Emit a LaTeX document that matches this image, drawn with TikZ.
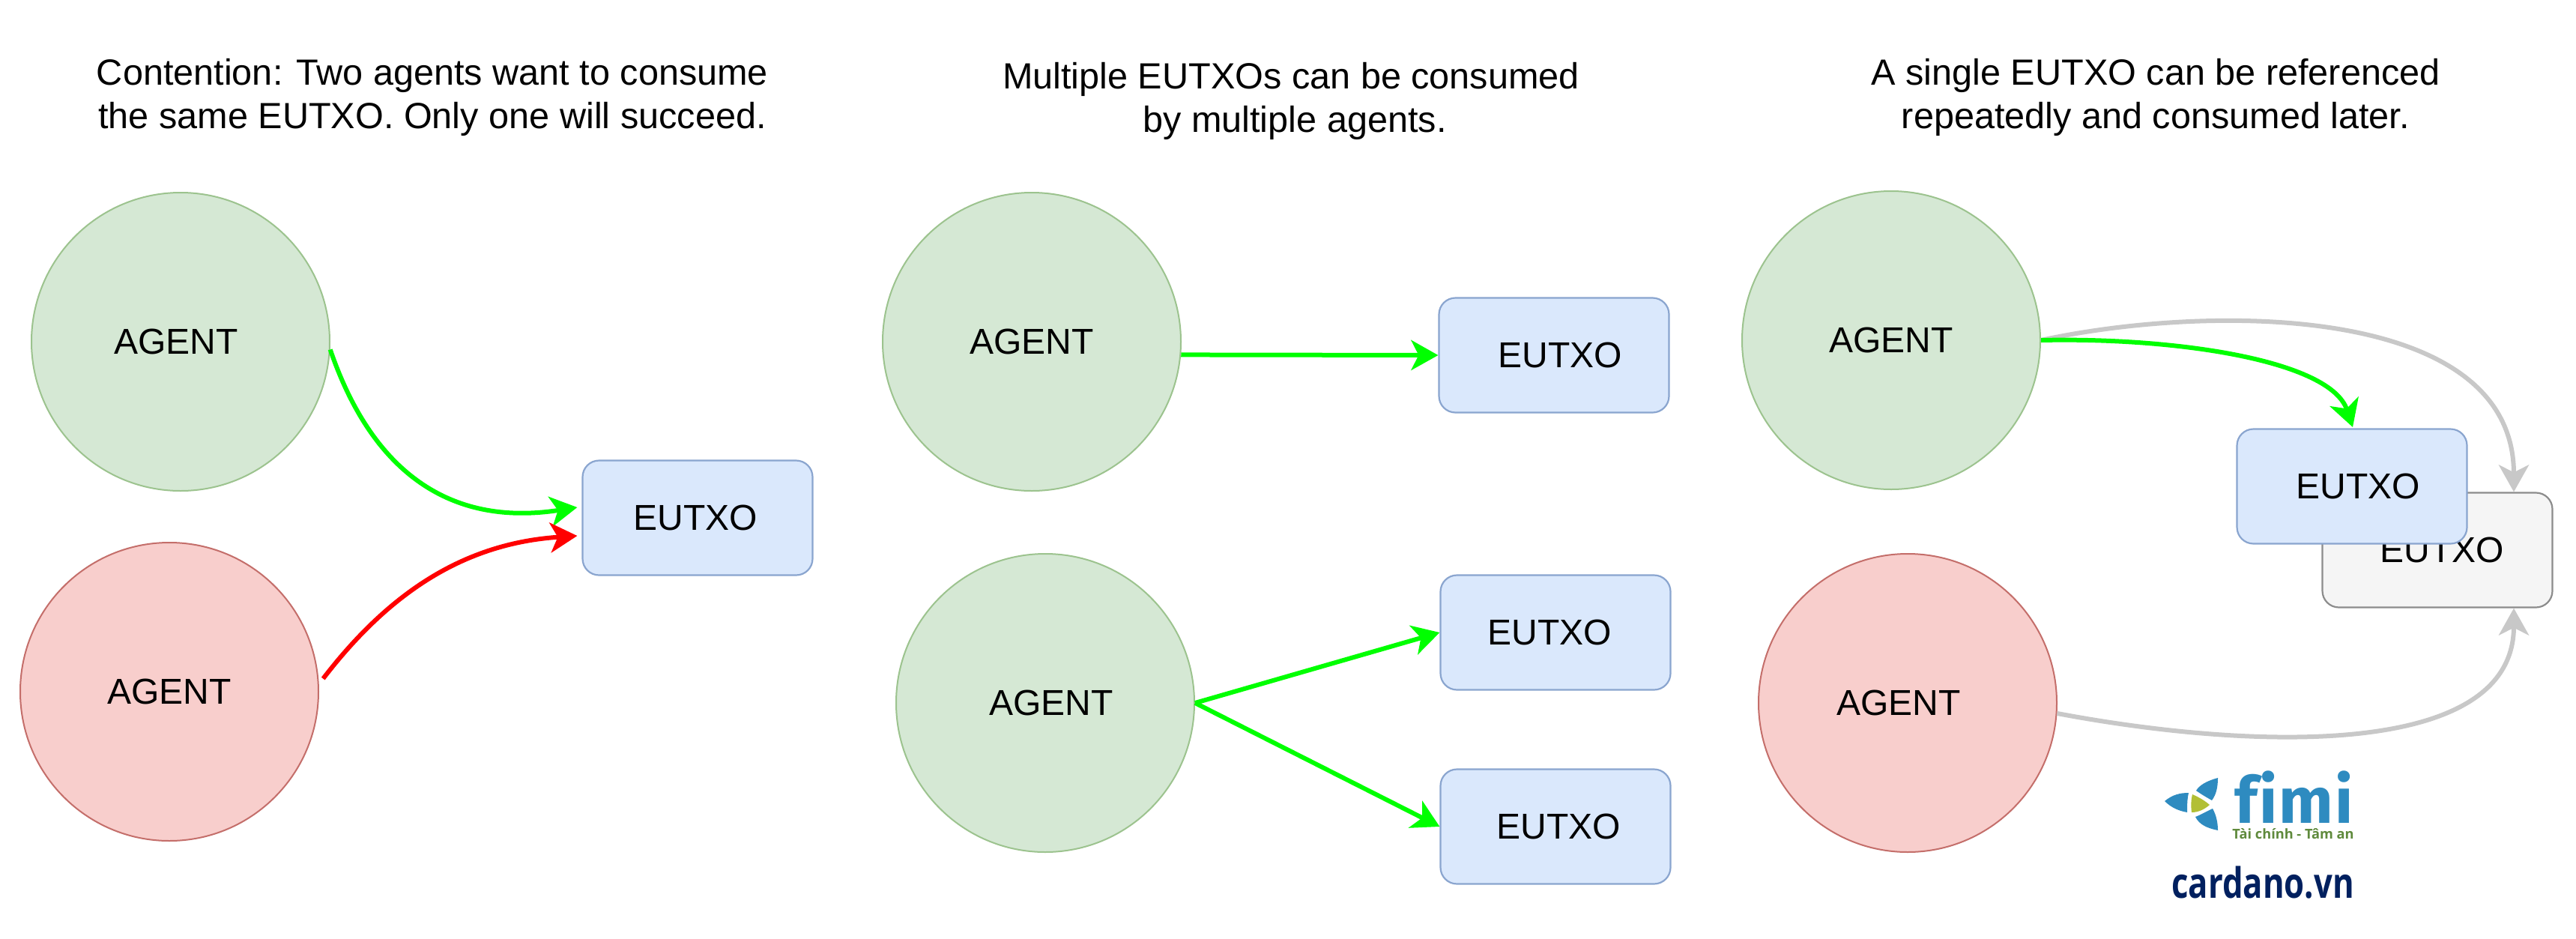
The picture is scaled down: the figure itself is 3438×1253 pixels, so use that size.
\documentclass[tikz,border=0pt]{standalone}
\usepackage{fontspec}
\usepackage{graphicx}
\setmainfont{Liberation Sans}
\newfontfamily\logofont[Ligatures=NoCommon]{Fira Sans}
\newfontfamily\tagfont{Open Sans}
\usetikzlibrary{arrows.meta}
\definecolor{gfill}{HTML}{D5E8D4}\definecolor{gline}{HTML}{9CC38E}
\definecolor{rfill}{HTML}{F8CECC}\definecolor{rline}{HTML}{C46E6A}
\definecolor{bfill}{HTML}{DAE8FC}\definecolor{bline}{HTML}{8AA5CF}
\definecolor{wfill}{HTML}{F5F5F5}\definecolor{wline}{HTML}{8C8C8C}
\definecolor{conn}{HTML}{C8C8C8}
\definecolor{fimiblue}{HTML}{2E8BC0}\definecolor{fimigreen}{HTML}{5F8A3C}
\definecolor{fimiolive}{HTML}{B2BF35}\definecolor{navy}{HTML}{00205F}
\tikzset{
  x=0.5pt,y=-0.5pt,
  every node/.style={font=\fontsize{24}{28.5}\selectfont,text=black},
  titletext/.style={align=center,font=\fontsize{24.3}{29}\selectfont},
  agent/.style={circle,minimum size=199pt,inner sep=0pt,line width=1pt},
  agentok/.style={agent,fill=gfill,draw=gline},
  agentbad/.style={agent,fill=rfill,draw=rline},
  eutxo/.style={rectangle,rounded corners=11pt,minimum width=153.5pt,minimum height=76.5pt,inner sep=0pt,fill=bfill,draw=bline,line width=1.1pt},
  eutxoold/.style={eutxo,fill=wfill,draw=wline},
  conbase/.style={line width=3pt,-{Stealth[length=18pt,width=20pt,inset=5pt]}},
  cgreen/.style={conbase,draw=green},
  cred/.style={conbase,draw=red},
  cgrey/.style={conbase,draw=conn},
  leaf/.style={fill=fimiblue},
}
\begin{document}
\begin{tikzpicture}
\useasboundingbox (0,0) rectangle (3438,1253);
\fill[white] (0,0) rectangle (3438,1253);
% titles
\node[titletext] (t1) at (577,130) {Contention: Two agents want to consume\\the same EUTXO. Only one will succeed.};
\node[titletext] (t2) at (1723,135) {Multiple EUTXOs can be consumed\\\hspace*{5pt}by multiple agents.};
\node[titletext] (t3) at (2877,130) {A single EUTXO can be referenced\\repeatedly and consumed later.};
% panel 1
\node[agentok] (a1) at (241,456) {\hbox{AGENT\kern6pt}};
\node[agentbad] (a2) at (226,923) {AGENT};
\node[eutxo] (b1) at (931,691) {\hbox{EUTXO\kern3pt}};
\draw[cgreen] (a1.357) .. controls (500,640) and (610,702) .. ([xshift=-3pt,yshift=7pt]b1.west);
\draw[cred] ([xshift=3pt]a2.5) .. controls (520,790) and (620,725) .. ([xshift=-3pt,yshift=-12pt]b1.west);
% panel 2
\node[agentok] (a3) at (1377,456) {AGENT};
\node[agentok] (a4) at (1395,938) {\hbox{\kern8pt AGENT}};
\node[eutxo] (b2) at (2074,474) {\hbox{\kern8pt EUTXO}};
\node[eutxo] (b3) at (2076,844) {\hbox{EUTXO\kern8pt}};
\node[eutxo] (b4) at (2076,1103) {\hbox{\kern4pt EUTXO}};
\draw[cgreen] (a3.355) -- (b2.west);
\draw[cgreen] (a4.east) -- (b3.west);
\draw[cgreen] (a4.east) -- (b4.west);
% panel 3
\node[agentok] (a5) at (2524,454) {AGENT};
\node[agentbad] (a6) at (2546,938) {\hbox{AGENT\kern12pt}};
\node[eutxoold] (b6) at (3253,734) {\hbox{\kern6pt EUTXO}};
\coordinate (b5top) at (3140,570);
\draw[cgrey] (a5.east) .. controls (2950,405) and (3355,405) .. (b6.north -| 3355,0);
\draw[cgrey] (a6.356) .. controls (3000,1000) and (3355,1015) .. (b6.south -| 3355,0);
\draw[cgreen] (a5.east) .. controls (2900,450) and (3110,480) .. (b5top);
\node[eutxo] (b5) at (3139,649) {\hbox{\kern8pt EUTXO}};
% logo
\fill[leaf] (2889,1069) .. controls (2900,1060) and (2910,1058) .. (2921,1058) .. controls (2919,1066) and (2919,1076) .. (2919,1084) .. controls (2908,1082) and (2898,1078) .. cycle;
\fill[leaf] (2960,1038) .. controls (2945,1042) and (2935,1048) .. (2931,1055) .. controls (2938,1060) and (2945,1064) .. (2952,1068) .. controls (2958,1060) and (2960,1050) .. cycle;
\fill[leaf] (2960,1108) .. controls (2945,1105) and (2935,1100) .. (2930,1090) .. controls (2938,1087) and (2946,1082) .. (2953,1079) .. controls (2958,1088) and (2960,1098) .. cycle;
\fill[fimiolive] (2926,1060) .. controls (2935,1064) and (2942,1068) .. (2949,1074) .. controls (2942,1080) and (2934,1084) .. (2925,1084) .. controls (2924,1076) and (2924,1068) .. cycle;
\node[anchor=base west,inner sep=0pt,text=fimiblue,font=\logofont\bfseries\fontsize{43}{43}\selectfont] (fimi) at (2982,1098) {\addfontfeature{LetterSpace=2.5}fimi};
\node[anchor=base west,inner sep=0pt,text=fimigreen,font=\tagfont\bfseries\fontsize{9.1}{10}\selectfont] (tag) at (2979,1119) {Tài chính - Tâm an};
\node[anchor=base west,inner sep=0pt,text=navy,font=\tagfont\bfseries\fontsize{28}{30}\selectfont] (site) at (2898,1198) {\scalebox{.78}[1]{cardano.vn}};
\end{tikzpicture}
\end{document}
